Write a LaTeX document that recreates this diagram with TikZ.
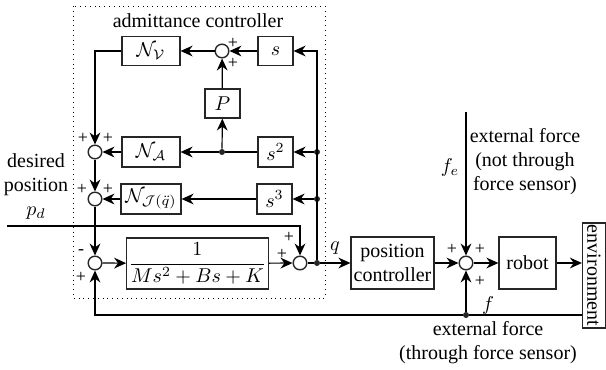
\documentclass[tikz,border=0pt]{standalone}
\usepackage{amsmath}
\usepackage{fontspec}
\setmainfont{Liberation Serif}
\usetikzlibrary{arrows.meta}

\begin{document}
\begin{tikzpicture}[x=0.5pt,y=-0.5pt,
  >={Stealth[length=6pt,width=5.4pt]},
  blk/.style={draw=black!85,line width=0.6pt,inner sep=1pt,minimum height=14.5pt},
  sumc/.style={circle,draw=black!85,line width=0.7pt,minimum size=6.8pt,inner sep=0pt},
  dot/.style={circle,fill=black!85,minimum size=3pt,inner sep=0pt},
  sgn/.style={font=\small,inner sep=0pt},
  sig/.style={->,line width=0.6pt}]
  \useasboundingbox (0,0) rectangle (606,370);
  % admittance controller
  \draw[dotted] (73,6) rectangle (325,298);
  \node (title) at (198,21) {admittance controller};
  \node[blk,minimum width=29pt] (NV) at (151,51) {$\mathcal{N}_{\mathcal{V}}$};
  \node[sumc] (sumV) at (222,51) {};
  \node[blk,minimum width=17.5pt] (sbox) at (275.5,51) {$s$};
  \node[blk,minimum width=17.5pt] (Pbox) at (222.5,103.5) {$P$};
  \node[blk,minimum width=29pt,minimum height=15pt] (NA) at (151,152) {$\mathcal{N}_{\mathcal{A}}$};
  \node[dot] (dotA) at (222,152) {};
  \node[blk,minimum width=17.5pt,minimum height=15pt] (s2) at (275.5,152) {$s^2$};
  \node[dot] (dotR2) at (317,152) {};
  \node[sumc] (sumA) at (95,152) {};
  \node[sumc] (sumJ) at (95,199) {};
  \node[blk,minimum width=30pt,minimum height=15pt,inner sep=0.6pt] (NJ) at (151,199) {$\mathcal{N}_{\mathcal{J}(\ddot{q})}$};
  \node[blk,minimum width=17.5pt,minimum height=15pt] (s3) at (274.5,199) {$s^3$};
  \node[dot] (dotR3) at (317,199) {};
  \node[sumc] (sumM) at (95,263) {};
  \node[blk,minimum width=70.5pt,minimum height=25.5pt] (G) at (197.5,263.5) {$\dfrac{1}{Ms^2+Bs+K}$};
  \node[sumc] (sumQ) at (300,263) {};
  \node[dot] (dotQ) at (317,263) {};
  % plant side
  \node[blk,minimum width=41.5pt,minimum height=26pt,align=center] (pc) at (392.5,263) {position\\controller};
  \node[sumc] (sumF) at (466,263) {};
  \node[blk,minimum width=28.5pt,minimum height=26pt] (robot) at (527.5,263) {robot};
  \node[blk,rotate=-90,minimum width=52.5pt,minimum height=11.5pt,inner sep=0.5pt] (env) at (594,275.5) {environment};
  \node[dot] (dotF) at (466,315) {};
  \coordinate (pdIn) at (7,226);
  \coordinate (feTop) at (466,112);

  % signals
  \draw[sig] (dotQ) |- (sbox);
  \draw[sig] (dotR2) -- (s2);
  \draw[sig] (dotR3) -- (s3);
  \draw[sig] (sbox) -- (sumV);
  \draw[sig] (Pbox) -- (sumV);
  \draw[sig] (sumV) -- (NV);
  \draw[sig] (NV) -| (sumA);
  \draw[line width=0.6pt] (s2) -- (dotA);
  \draw[sig] (dotA) -- (NA);
  \draw[sig] (dotA) -- (Pbox);
  \draw[sig] (NA) -- (sumA);
  \draw[sig] (sumA) -- (sumJ);
  \draw[sig] (s3) -- (NJ);
  \draw[sig] (NJ) -- (sumJ);
  \draw[sig] (sumJ) -- (sumM);
  \draw[sig] (sumM) -- (G);
  \draw[sig] (G) -- (sumQ);
  \draw[sig] (pdIn) -| (sumQ);
  \draw[line width=0.6pt] (sumQ) -- (dotQ);
  \draw[sig] (dotQ) -- (pc);
  \draw[sig] (pc) -- (sumF);
  \draw[sig] (feTop) -- (sumF);
  \draw[sig] (sumF) -- (robot);
  \draw[sig] (robot) -- (robot -| env.south);
  \draw[line width=0.6pt] (env.south |- dotF) -- (dotF);
  \draw[sig] (dotF) -- (sumF);
  \draw[sig] (dotF) -| (sumM);

  % signs
  \node[sgn] (pV1) at (233,43) {+};
  \node[sgn] (pV2) at (233,63) {+};
  \node[sgn] (pA1) at (83,138) {+};
  \node[sgn] (pA2) at (108,138) {+};
  \node[sgn] (pJ1) at (82,189) {+};
  \node[sgn] (pJ2) at (108,189) {+};
  \node[sgn] (mM) at (81,252) {-};
  \node[sgn] (pM) at (81,277) {+};
  \node[sgn] (pQ1) at (289,237) {+};
  \node[sgn] (pQ2) at (282,254) {+};
  \node[sgn] (pF1) at (452,249) {+};
  \node[sgn] (pF2) at (480,249) {+};
  \node[sgn] (pF3) at (480,281) {+};

  % labels
  \node[align=center] (pdlab) at (36,187) {desired\\position\\$p_d$};
  \node (qlab) at (335,248) {$q$};
  \node (felab) at (450,167) {$f_e$};
  \node[align=center] (extA) at (525,162) {external force\\(not through\\force sensor)};
  \node (flab) at (488,305) {$f$};
  \node[align=center] (extB) at (488,342.5) {external force\\(through force sensor)};
\end{tikzpicture}
\end{document}
